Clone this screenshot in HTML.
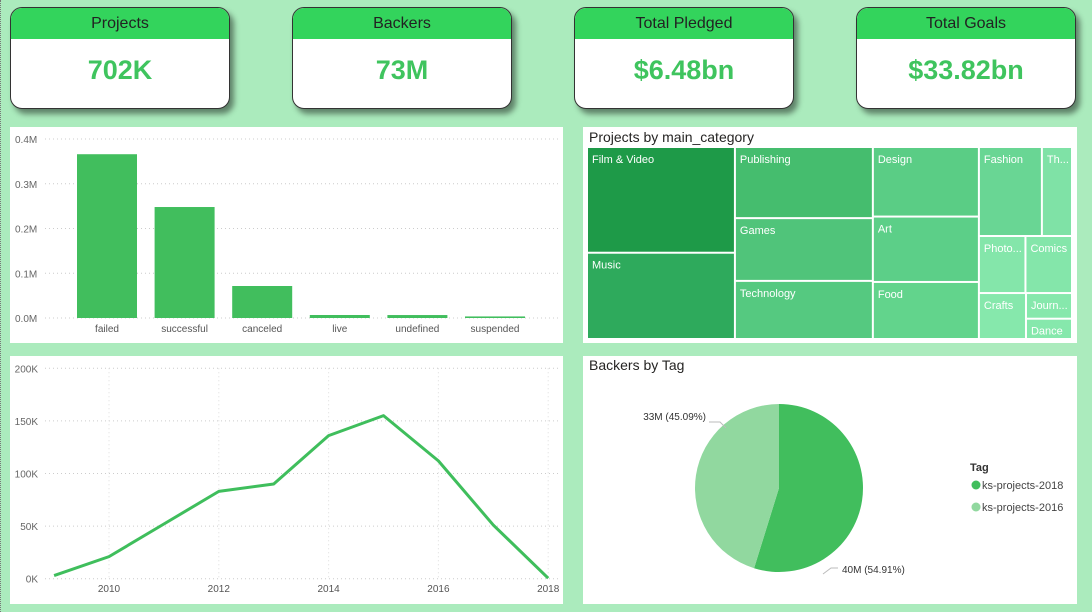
<!DOCTYPE html>
<html><head><meta charset="utf-8"><style>
*{margin:0;padding:0;box-sizing:border-box}
body{width:1092px;height:612px;background:#abebbd;font-family:"Liberation Sans","DejaVu Sans",sans-serif;position:relative;overflow:hidden}
.card{position:absolute;top:7px;width:220px;height:102px;background:#fff;border:1px solid #333;border-radius:12px;overflow:hidden;box-shadow:4px 5px 6px rgba(0,0,0,.45)}
.card .h{height:31px;background:#33d45c;text-align:center;font-size:16px;line-height:31px;color:#222}
.card .v{text-align:center;font-size:27px;font-weight:bold;color:#3fc45e;line-height:62px}
.panel{position:absolute;background:#fff}
svg text{font-family:"Liberation Sans","DejaVu Sans",sans-serif}
</style></head><body>
<div style="position:absolute;left:0;top:0;width:1px;height:612px;border-left:1px dotted #777"></div>
<div class="card" style="left:10px"><div class="h">Projects</div><div class="v">702K</div></div>
<div class="card" style="left:292px"><div class="h">Backers</div><div class="v">73M</div></div>
<div class="card" style="left:574px"><div class="h">Total Pledged</div><div class="v">$6.48bn</div></div>
<div class="card" style="left:856px"><div class="h">Total Goals</div><div class="v">$33.82bn</div></div>

<div class="panel" style="left:10px;top:127px;width:553px;height:216px">
<svg id="bar" width="553" height="216"></svg></div>
<div class="panel" style="left:10px;top:356px;width:553px;height:248px">
<svg id="line" width="553" height="248"></svg></div>
<div class="panel" style="left:583px;top:127px;width:494px;height:216px">
<svg id="tree" width="494" height="216">
<text x="6" y="15" font-size="14" fill="#252423">Projects by main_category</text></svg></div>
<div class="panel" style="left:583px;top:356px;width:494px;height:248px">
<svg id="pie" width="494" height="248">
<text x="6" y="14" font-size="14" fill="#252423">Backers by Tag</text></svg></div>

<script>
const NS="http://www.w3.org/2000/svg";
function mk(p,t,a){const e=document.createElementNS(NS,t);for(const k in a)e.setAttribute(k,a[k]);p.appendChild(e);return e;}

// ---- bar chart ----
const barCats=["failed","successful","canceled","live","undefined","suspended"];
const barVals=[0.366,0.248,0.0715,0.0067,0.0066,0.0035];
const barTicks=[0,0.1,0.2,0.3,0.4];
const barTickLabels=["0.0M","0.1M","0.2M","0.3M","0.4M"];
(function(){
 const s=document.getElementById('bar');
 const y=v=>191-v/0.4*179, x0=67, step=77.6, bw=60;
 barTicks.forEach((t,i)=>{
  const l=mk(s,'line',{x1:35,x2:548,y1:y(t),y2:y(t),stroke:'#ccc','stroke-dasharray':'1,3'});
  
  const tx=mk(s,'text',{x:5,y:y(t)+4,'font-size':10,fill:'#666'});tx.textContent=barTickLabels[i];
  
 });
 barCats.forEach((c,i)=>{
  const r=mk(s,'rect',{x:x0+i*step,y:y(barVals[i]),width:bw,height:191-y(barVals[i]),fill:'#41be5d'});
  
  const t=mk(s,'text',{x:x0+i*step+bw/2,y:205,'font-size':10,fill:'#555','text-anchor':'middle'});t.textContent=c;
  
 });
})();

// ---- line chart ----
const years=[2009,2010,2011,2012,2013,2014,2015,2016,2017,2018];
const projCounts=[3,21,52,83,90,136,155,112,51,0.5];
const lineTicks=[0,50,100,150,200];
const lineTickLabels=["0K","50K","100K","150K","200K"];
const yearTicks=[2010,2012,2014,2016,2018];
(function(){
 const s=document.getElementById('line');
 const y=v=>222.7-v/200*210.4, x=yr=>99+(yr-2010)*54.9;
 lineTicks.forEach((t,i)=>{
  const l=mk(s,'line',{x1:35,x2:550,y1:y(t),y2:y(t),stroke:'#ccc','stroke-dasharray':'1,3'});
  
  const tx=mk(s,'text',{x:28,y:y(t)+4,'font-size':10,fill:'#666','text-anchor':'end'});tx.textContent=lineTickLabels[i];
  
 });
 yearTicks.forEach(yr=>{
  const l=mk(s,'line',{x1:x(yr),x2:x(yr),y1:y(200),y2:y(0),stroke:'#ddd','stroke-dasharray':'1,3'});
  
  const t=mk(s,'text',{x:x(yr),y:236,'font-size':10,fill:'#555','text-anchor':'middle'});t.textContent=yr;
  
 });
 const p=mk(s,'polyline',{points:years.map((yr,i)=>x(yr)+','+y(projCounts[i])).join(' '),fill:'none',stroke:'#3fbe5c','stroke-width':3,'stroke-linejoin':'round'});
 
})();

// ---- treemap ----
const treeCats=["Film & Video","Music","Publishing","Games","Technology","Design","Art","Food","Fashion","Th...","Photo...","Comics","Crafts","Journ...","Dance"];
const treeVals=[63.6,51.9,39.9,35.2,32.6,30.0,28.2,24.6,22.8,10.9,10.8,10.8,8.8,4.8,3.8];
const treeColors=["#1e9a48","#2eaa5c","#45bd6e","#50c47a","#55c980","#5acd85","#5ccf88","#62d48c","#69d694","#7fe2a6","#84e6aa","#84e6aa","#86e8ac","#86e8ac","#86e8ac"];
(function(){
 const s=document.getElementById('tree');
 const X=5,Y=21,W=485,H=192;
 const total=treeVals.reduce((a,b)=>a+b,0);
 function draw(i,x,y,w,h){
  const r=mk(s,'rect',{x:x,y:y,width:Math.max(w-2,0),height:Math.max(h-2,0),fill:treeColors[i]});
  
  const t=mk(s,'text',{x:x+4,y:y+15,'font-size':11,fill:'#fff'});t.textContent=treeCats[i];
  
 }
 const sum=a=>a.reduce((p,i)=>p+treeVals[i],0);
 function col(ids,x,w){let y=Y;const s2=sum(ids);ids.forEach(i=>{const h=H*treeVals[i]/s2;draw(i,x,y,w,h);y+=h;});}
 let x=X;
 [[0,1],[2,3,4],[5,6,7]].forEach(g=>{const w=W*sum(g)/total;col(g,x,w);x+=w;});
 const w4=X+W-x;const rest=[8,9,10,11,12,13,14];const sr=sum(rest);
 // row-based stacking in last column
 const rows=[[8,9],[10,11],[12,[13,14]]];
 let y=Y;
 rows.forEach(row=>{
  const ids=row.flat();const rs=sum(ids);const h=H*rs/sr;let xx=x;
  row.forEach(it=>{
   if(Array.isArray(it)){const ss=sum(it);const ww=w4*ss/rs;let yy=y;it.forEach(i=>{const hh=h*treeVals[i]/ss;draw(i,xx,yy,ww,hh);yy+=hh;});xx+=ww;}
   else{const ww=w4*treeVals[it]/rs;draw(it,xx,y,ww,h);xx+=ww;}
  });
  y+=h;
 });
})();

// ---- pie ----
const pieTags=["ks-projects-2018","ks-projects-2016"];
const pieVals=[40,33];
const piePcts=["54.91%","45.09%"];
const pieColors=["#41be5d","#91d89f"];
(function(){
 const s=document.getElementById('pie');
 const cx=196,cy=132,R=84;const tot=pieVals.reduce((a,b)=>a+b,0);
 let a0=0;
 pieVals.forEach((v,i)=>{
  const a1=a0+v/tot*2*Math.PI;
  const p=(a)=>[cx+R*Math.sin(a),cy-R*Math.cos(a)];
  const [x0,y0]=p(a0),[x1,y1]=p(a1);
  const path=mk(s,'path',{d:`M${cx},${cy}L${x0},${y0}A${R},${R} 0 ${a1-a0>Math.PI?1:0} 1 ${x1},${y1}Z`,fill:pieColors[i]});
  
  const am=(a0+a1)/2;
  a0=a1;
 });
 const l1=mk(s,'polyline',{points:'240,218 248,212 255,212',fill:'none',stroke:'#bbb'});
 
 const t1=mk(s,'text',{x:259,y:217,'font-size':10,fill:'#333'});t1.textContent=pieVals[0]+'M ('+piePcts[0]+')';
 
 const l2=mk(s,'polyline',{points:'126,66 137,66 143,72',fill:'none',stroke:'#bbb'});
 
 const t2=mk(s,'text',{x:123,y:64,'font-size':10,fill:'#333','text-anchor':'end'});t2.textContent=pieVals[1]+'M ('+piePcts[1]+')';
 
 const lt=mk(s,'text',{x:387,y:115,'font-size':11,'font-weight':'bold',fill:'#333'});lt.textContent='Tag';
 
 pieTags.forEach((tg,i)=>{
  const c=mk(s,'circle',{cx:393,cy:129+i*22,r:4.5,fill:pieColors[i]});
  
  const t=mk(s,'text',{x:399,y:133+i*22,'font-size':11,fill:'#444'});t.textContent=tg;
  
 });
})();
</script>
</body></html>
